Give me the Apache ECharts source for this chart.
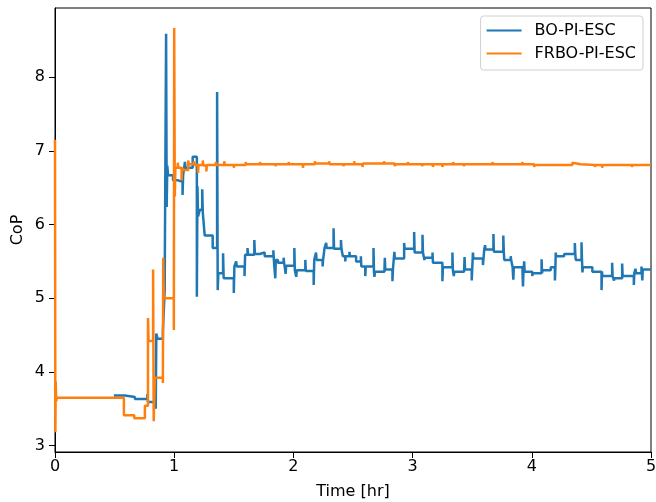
<!DOCTYPE html>
<html>
<head>
<meta charset="utf-8">
<script src="https://cdn.jsdelivr.net/npm/echarts@6/dist/echarts.min.js"></script>
<style>
  html, body { margin: 0; padding: 0; background: #fff; }
  #myChartDiv { width: 656px; height: 502px; }
</style>
</head>
<body>
<div id="myChartDiv"></div>
<script>
const xTicks = [0, 1, 2, 3, 4, 5];
const yTicks = [3, 4, 5, 6, 7, 8];
const seriesNames = ['BO-PI-ESC', 'FRBO-PI-ESC'];

// [time hr, CoP], each value holds until the next time
const boData = [
  [0.494, 3.68], [0.586, 3.66], [0.67, 3.63], [0.775, 3.7], [0.78, 3.59],
  [0.845, 3.5], [0.85, 4.52], [0.86, 4.45], [0.905, 4.55], [0.92, 5.1],
  [0.932, 8.59], [0.937, 6.24], [0.942, 6.8], [0.948, 6.67], [0.99, 6.6],
  [1.033, 6.58], [1.07, 6.4], [1.075, 6.67], [1.09, 6.85], [1.095, 6.77],
  [1.155, 6.92], [1.19, 5.02], [1.195, 6.52], [1.2, 6.11], [1.215, 6.2],
  [1.235, 6.48], [1.24, 6.16], [1.256, 5.85], [1.323, 5.68], [1.36, 7.8],
  [1.365, 5.11], [1.37, 5.34], [1.41, 5.61], [1.415, 5.27], [1.5, 5.07],
  [1.505, 5.43], [1.52, 5.5], [1.525, 5.43], [1.59, 5.3], [1.595, 5.59],
  [1.615, 5.68], [1.62, 5.59], [1.672, 5.79], [1.677, 5.6], [1.717, 5.62],
  [1.759, 5.57], [1.832, 5.65], [1.836, 5.52], [1.848, 5.27], [1.852, 5.52],
  [1.87, 5.48], [1.918, 5.55], [1.922, 5.48], [1.926, 5.44], [1.935, 5.33],
  [1.939, 5.44], [2.008, 5.68], [2.012, 5.38], [2.024, 5.29], [2.028, 5.38],
  [2.1, 5.52], [2.104, 5.37], [2.17, 5.18], [2.175, 5.52], [2.19, 5.62],
  [2.194, 5.52], [2.245, 5.43], [2.249, 5.52], [2.261, 5.68], [2.275, 5.75],
  [2.279, 5.68], [2.337, 5.95], [2.341, 5.67], [2.399, 5.79], [2.403, 5.67],
  [2.415, 5.57], [2.435, 5.5], [2.439, 5.57], [2.47, 5.63], [2.474, 5.57],
  [2.526, 5.5], [2.566, 5.57], [2.57, 5.43], [2.603, 5.3], [2.607, 5.43],
  [2.672, 5.68], [2.676, 5.36], [2.68, 5.29], [2.684, 5.36], [2.764, 5.39],
  [2.767, 5.55], [2.771, 5.39], [2.831, 5.23], [2.835, 5.39], [2.847, 5.63],
  [2.851, 5.54], [2.929, 5.75], [2.933, 5.67], [3.013, 5.9], [3.017, 5.62],
  [3.083, 5.86], [3.087, 5.62], [3.099, 5.52], [3.103, 5.55], [3.167, 5.62],
  [3.171, 5.48], [3.25, 5.23], [3.254, 5.42], [3.334, 5.62], [3.338, 5.38],
  [3.346, 5.3], [3.35, 5.36], [3.432, 5.34], [3.436, 5.56], [3.44, 5.39],
  [3.496, 5.24], [3.5, 5.39], [3.506, 5.62], [3.51, 5.54], [3.59, 5.45],
  [3.595, 5.54], [3.601, 5.66], [3.608, 5.72], [3.612, 5.66], [3.678, 5.87],
  [3.682, 5.63], [3.761, 5.85], [3.765, 5.63], [3.769, 5.52], [3.823, 5.57],
  [3.827, 5.52], [3.839, 5.42], [3.845, 5.25], [3.849, 5.42], [3.922, 5.36],
  [3.926, 5.16], [3.93, 5.36], [3.936, 5.5], [3.94, 5.36], [4.004, 5.3],
  [4.008, 5.34], [4.082, 5.53], [4.086, 5.34], [4.09, 5.38], [4.159, 5.42],
  [4.194, 5.24], [4.198, 5.42], [4.201, 5.62], [4.205, 5.57], [4.271, 5.6],
  [4.361, 5.75], [4.365, 5.6], [4.369, 5.52], [4.417, 5.76], [4.421, 5.52],
  [4.425, 5.35], [4.429, 5.42], [4.508, 5.36], [4.585, 5.11], [4.589, 5.36],
  [4.592, 5.3], [4.674, 5.48], [4.678, 5.3], [4.69, 5.24], [4.694, 5.27],
  [4.758, 5.47], [4.762, 5.3], [4.856, 5.18], [4.86, 5.34], [4.87, 5.4],
  [4.874, 5.34], [4.92, 5.43], [4.924, 5.34], [4.927, 5.24], [4.931, 5.39],
  [5.0, 5.39]
];

const frboData = [
  [0, 7.15], [0.003, 3.18], [0.006, 3.87], [0.01, 3.6], [0.015, 3.65],
  [0.578, 3.41], [0.665, 3.37], [0.754, 3.54], [0.78, 4.73], [0.785, 4.42],
  [0.823, 5.39], [0.828, 3.33], [0.838, 3.92], [0.905, 3.85], [0.908, 5.55],
  [0.913, 5.0], [0.997, 4.57], [1.0, 8.67], [1.005, 6.38], [1.01, 6.77],
  [1.03, 6.84], [1.034, 6.77], [1.062, 6.6], [1.066, 6.77], [1.075, 6.74],
  [1.118, 6.87], [1.122, 6.82], [1.165, 6.86], [1.169, 6.81], [1.2, 6.7],
  [1.204, 6.81], [1.24, 6.87], [1.244, 6.8], [1.27, 6.72], [1.274, 6.81],
  [1.35, 6.85], [1.354, 6.81], [1.42, 6.86], [1.424, 6.81], [1.5, 6.77],
  [1.504, 6.81], [1.6, 6.85], [1.604, 6.82], [1.72, 6.85], [1.724, 6.82],
  [1.85, 6.79], [1.854, 6.82], [1.96, 6.85], [1.964, 6.82], [2.08, 6.77],
  [2.084, 6.82], [2.18, 6.86], [2.184, 6.83], [2.3, 6.86], [2.304, 6.82],
  [2.42, 6.79], [2.424, 6.82], [2.51, 6.86], [2.514, 6.82], [2.58, 6.78],
  [2.584, 6.83], [2.76, 6.86], [2.764, 6.83], [2.85, 6.79], [2.854, 6.82],
  [2.96, 6.85], [2.964, 6.82], [3.08, 6.79], [3.084, 6.82], [3.17, 6.78],
  [3.174, 6.82], [3.25, 6.78], [3.254, 6.82], [3.34, 6.85], [3.344, 6.82],
  [3.43, 6.79], [3.434, 6.82], [3.5, 6.84], [3.504, 6.82], [3.6, 6.84],
  [3.604, 6.82], [3.67, 6.85], [3.674, 6.82], [3.8, 6.84], [3.804, 6.82],
  [3.92, 6.85], [3.924, 6.82], [4.02, 6.78], [4.024, 6.81], [4.12, 6.83],
  [4.124, 6.81], [4.24, 6.83], [4.244, 6.81], [4.34, 6.84], [4.344, 6.82],
  [4.41, 6.84], [4.414, 6.81], [4.53, 6.78], [4.534, 6.81], [4.59, 6.77],
  [4.594, 6.81], [4.7, 6.83], [4.704, 6.81], [4.84, 6.78], [4.844, 6.81],
  [5.0, 6.81]
];

(() => {
  const myChart = echarts.init(document.getElementById('myChartDiv'));
  const font = 'DejaVu Sans';
  const tickStyle = { show: true, inside: false, length: 6, lineStyle: { color: '#000', width: 1 } };

  const option = {
    animation: false,
    backgroundColor: '#fff',
    grid: {
      left: 55, top: 8, right: 5, bottom: 50,
      show: true, borderColor: '#000', borderWidth: 1,
      outerBoundsMode: 'none'
    },
    legend: {
      orient: 'vertical',
      right: 13,
      top: 16,
      padding: [5, 7, 7, 6],
      itemGap: 4,
      itemWidth: 35,
      itemHeight: 2,
      icon: 'rect',
      borderColor: '#d0d0d0',
      borderWidth: 1,
      borderRadius: 3,
      backgroundColor: 'rgba(255,255,255,0.8)',
      textStyle: { fontSize: 16, fontFamily: font, color: '#000', lineHeight: 19, padding: [0, 0, 0, 8] },
      data: seriesNames
    },
    xAxis: {
      type: 'value',
      min: 0,
      max: 5,
      interval: 1,
      name: 'Time [hr]',
      nameLocation: 'middle',
      nameGap: 32,
      nameMoveOverlap: false,
      nameTextStyle: { color: '#000', fontSize: 16, fontFamily: font },
      axisLine: { show: true, onZero: false, lineStyle: { color: '#000', width: 1 } },
      axisTick: Object.assign({ customValues: xTicks }, tickStyle),
      splitLine: { show: false },
      axisLabel: { margin: 7, fontSize: 16, fontFamily: font, color: '#000', customValues: xTicks }
    },
    yAxis: {
      type: 'value',
      min: 2.912,
      max: 8.94,
      name: 'CoP',
      nameLocation: 'middle',
      nameRotate: 90,
      nameGap: 29,
      nameMoveOverlap: false,
      nameTextStyle: { color: '#000', fontSize: 16, fontFamily: font },
      axisLine: { show: true, onZero: false, lineStyle: { color: '#000', width: 1 } },
      axisTick: Object.assign({ customValues: yTicks }, tickStyle),
      splitLine: { show: false },
      axisLabel: { margin: 10, fontSize: 16, fontFamily: font, color: '#000', customValues: yTicks }
    },
    series: [
      {
        name: seriesNames[0],
        type: 'line',
        step: 'end',
        symbol: 'none',
        data: boData,
        color: '#1f77b4',
        lineStyle: { color: '#1f77b4', width: 2.5 }
      },
      {
        name: seriesNames[1],
        type: 'line',
        step: 'end',
        symbol: 'none',
        data: frboData,
        color: '#ff7f0e',
        lineStyle: { color: '#ff7f0e', width: 2.5 }
      }
    ]
  };

  myChart.setOption(option);
})();
</script>
</body>
</html>
